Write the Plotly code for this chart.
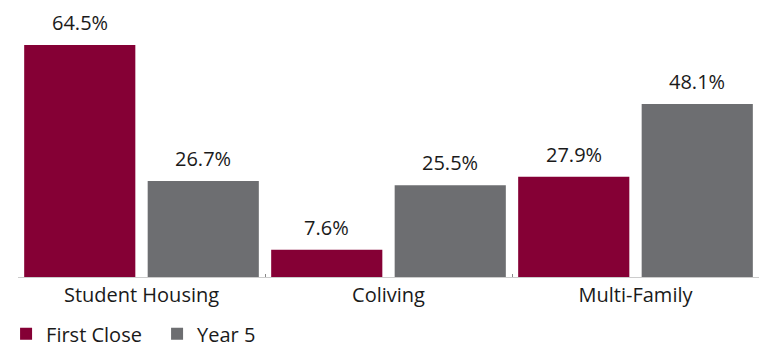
import plotly.graph_objects as go

categories = ["Student Housing", "Coliving", "Multi-Family"]
first_close = [64.5, 7.6, 27.9]
year5 = [26.7, 25.5, 48.1]
series_names = ["First Close", "Year 5"]
colors = ["#850035", "#6d6e71"]

FONT = "Open Sans"
FS = 20
fig = go.Figure()
for name, vals, col in zip(series_names, [first_close, year5], colors):
    fig.add_trace(go.Bar(
        x=categories, y=vals, name=name, marker_color=col,
        marker_line_width=0,
    ))

# value labels above bars
for i, vals in enumerate([first_close, year5]):
    for j, (c, v) in enumerate(zip(categories, vals)):
        fig.add_annotation(
            x=c, y=v, text=f"{v:.1f}%", showarrow=False,
            xref="x", yref="y", yanchor="bottom", yshift=7,
            xshift=(-61.75 if i == 0 else 61.75),
            font=dict(size=FS, color="#1a1a1a", family=FONT),
        )

fig.update_layout(
    width=759, height=347,
    margin=dict(l=18, r=0, t=0, b=70, autoexpand=False),
    plot_bgcolor="white", paper_bgcolor="white",
    barmode="group", bargap=0.0, bargroupgap=0.1,
    font=dict(family=FONT, size=FS, color="#1a1a1a"),
    showlegend=True,
    legend=dict(orientation="h", x=0.008, xref="container", y=-0.205, yref="paper",
                xanchor="left", yanchor="middle",
                entrywidth=106, entrywidthmode="pixels",
                font=dict(size=FS, family=FONT, color="#1a1a1a"),
                traceorder="normal"),
    xaxis=dict(showline=True, linecolor="#cccccc", linewidth=1, automargin=False,
               ticks="inside", tickson="boundaries", ticklen=3, tickcolor="#888888",
               tickfont=dict(size=FS, family=FONT, color="#1a1a1a")),
    yaxis=dict(range=[0, 77], visible=False, showgrid=False),
)

fig.write_html("out.html")
